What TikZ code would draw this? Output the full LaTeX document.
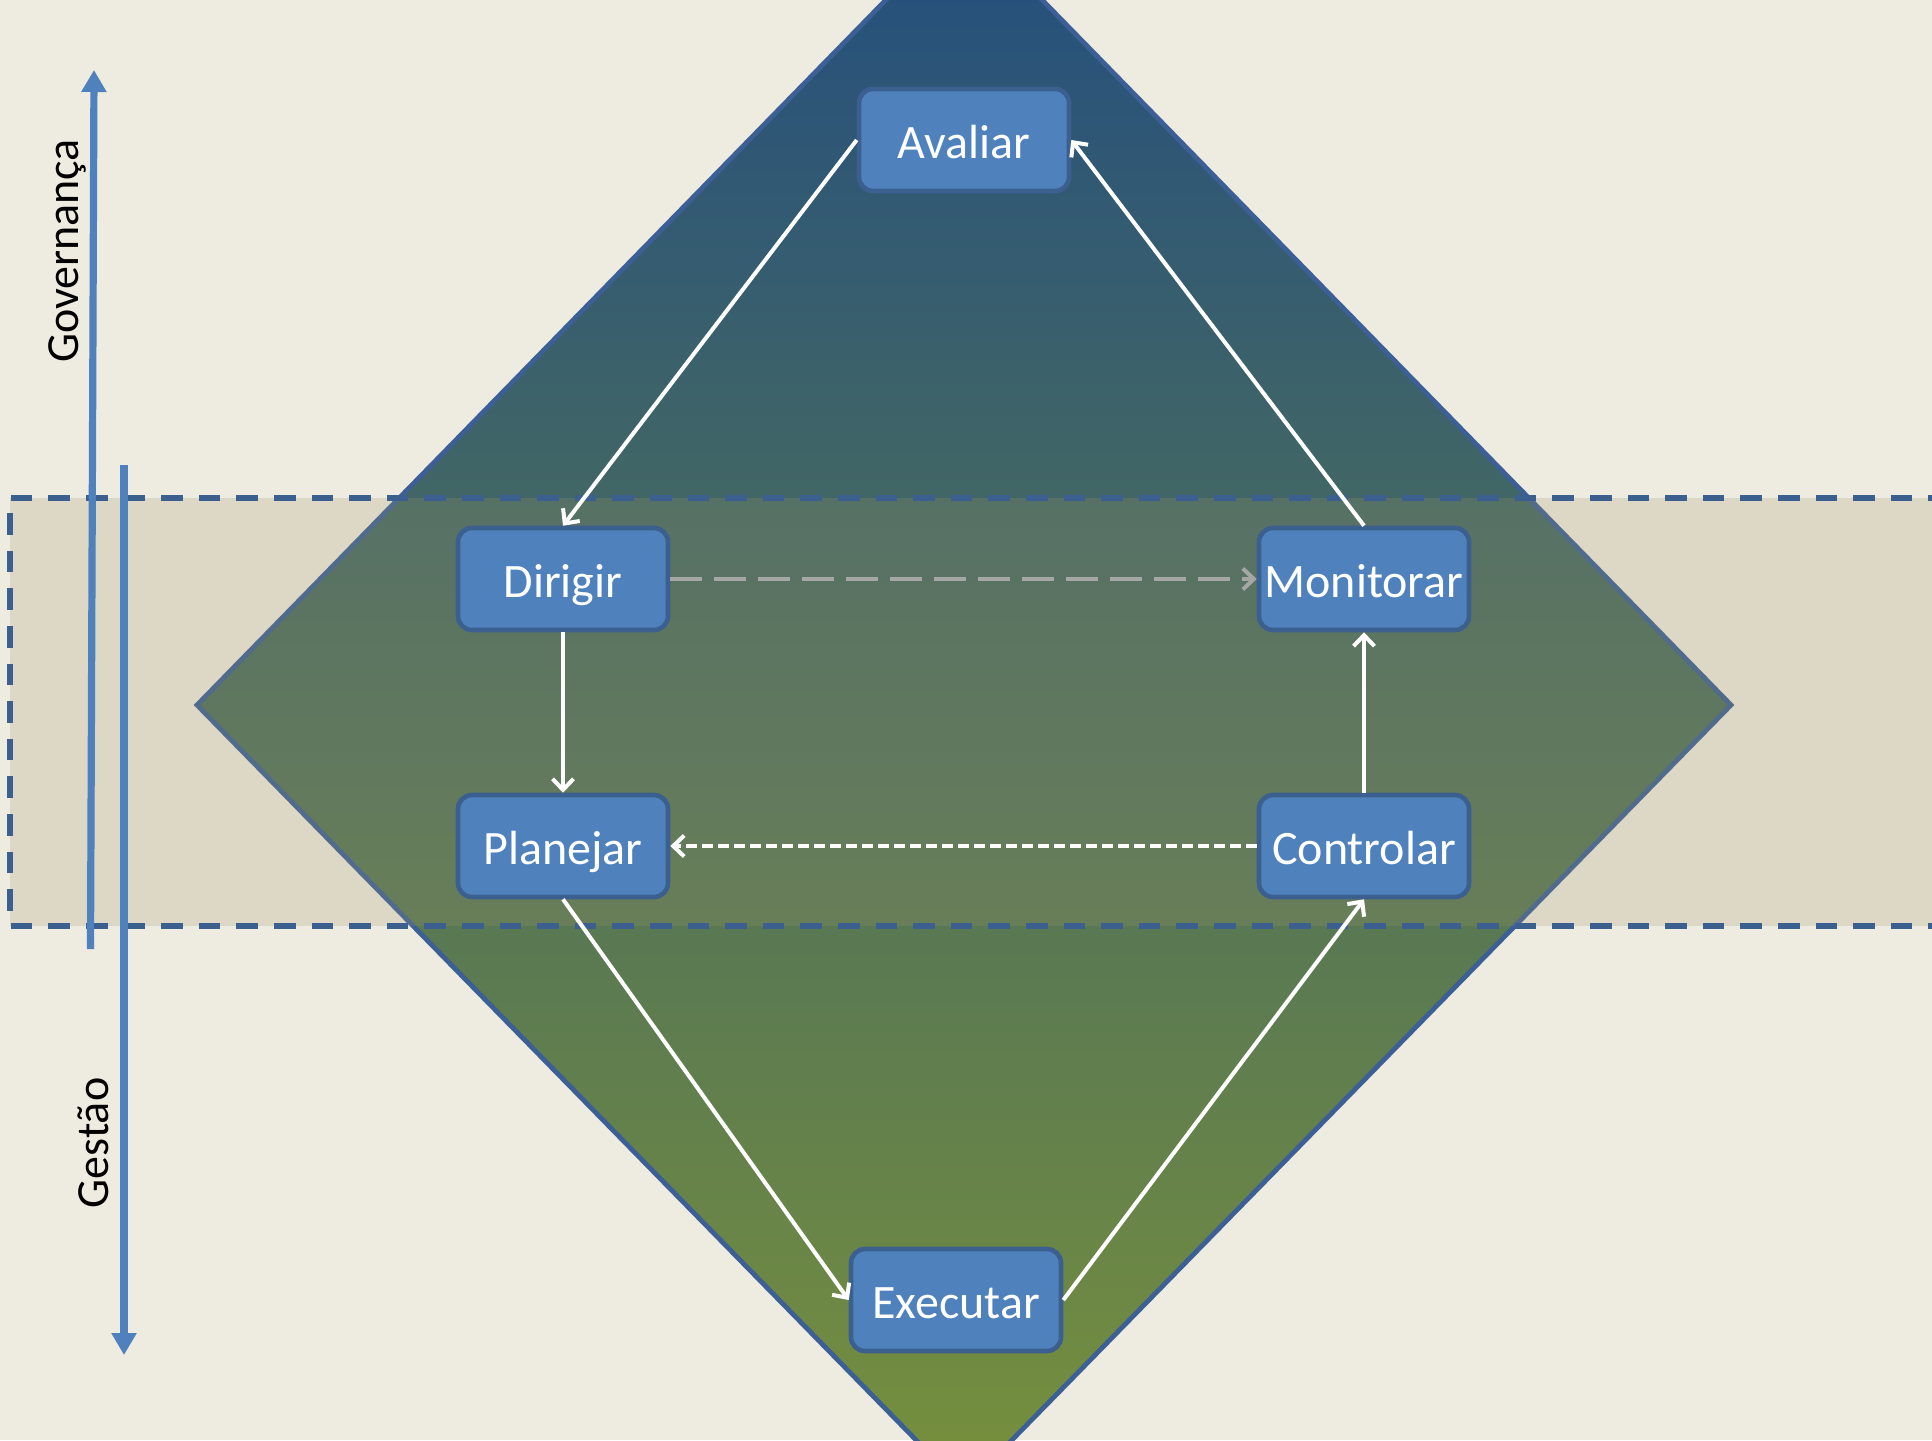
\documentclass[tikz,border=0pt]{standalone}
\usepackage{fontspec}
\setmainfont{Carlito}
\usetikzlibrary{arrows.meta}
\definecolor{bgcol}{HTML}{EEEBE0}
\definecolor{bandcol}{HTML}{A09669}
\definecolor{bandline}{HTML}{3B5F8F}
\definecolor{diamondtop}{HTML}{234E7E}
\definecolor{diamondbot}{HTML}{77903C}
\definecolor{diamondline}{HTML}{3C5F96}
\definecolor{nodefill}{HTML}{4F81BD}
\definecolor{nodeline}{HTML}{3B5F8F}
\definecolor{arrowgray}{HTML}{A6A6A6}

\begin{document}
\begin{tikzpicture}[x=0.5pt,y=-0.5pt]
    \tikzstyle{every node}+=[inner sep=2pt]
    \tikzstyle{stagebox}=[draw=nodeline,line width=2.3pt,fill=nodefill,rounded corners=7pt,minimum width=105pt,minimum height=51pt,text height=22pt,text depth=4pt,text=white,font=\fontsize{24}{28}\selectfont]
    \tikzstyle{flow}=[draw=white,line width=2pt,-{Straight Barb[length=5.5pt,width=10.5pt]}]
    \tikzstyle{axis}=[draw=nodefill,line width=3.6pt,-{Triangle[length=11pt,width=12pt]}]
    \tikzstyle{sidelabel}=[rotate=90,text=black,font=\fontsize{23}{28}\selectfont]
    \clip (0,0) rectangle (1932,1440);
    \fill [bgcol] (0,0) rectangle (1932,1440);
    \draw [diamondline,line width=2.4pt,top color=diamondtop,bottom color=diamondbot] (964,-80) -- (1731,705) -- (964,1489) -- (197,705) -- cycle;
    \fill [bandcol,fill opacity=0.22] (10,498) rectangle (1950,926);
    \draw [bandline,line width=2.8pt,dash pattern=on 10.8pt off 8pt] (1950,498) -- (10,498) -- (10,926) -- (1950,926);
    \coordinate (govlow) at (90.5,949);
    \coordinate (govtop) at (94,70);
    \coordinate (gestop) at (124,465);
    \coordinate (geslow) at (124,1355);
    \draw [axis] (govlow) -- (govtop);
    \draw [axis] (gestop) -- (geslow);
    \node [sidelabel] (gov) at (67,251) {Governança};
    \node [sidelabel] (ges) at (93,1143) {Gestão};
    \node [stagebox] (avaliar) at (964,140) {Avaliar};
    \node [stagebox] (dirigir) at (563,579) {Dirigir};
    \node [stagebox] (monitorar) at (1364,579) {Monitorar};
    \node [stagebox] (planejar) at (563,846) {Planejar};
    \node [stagebox] (controlar) at (1364,846) {Controlar};
    \node [stagebox] (executar) at (956,1300) {Executar};
    \draw [flow] (avaliar.west) -- (dirigir.north);
    \draw [flow] (monitorar.north) -- (avaliar.east);
    \draw [flow] (dirigir.south) -- (planejar.north);
    \draw [flow] (controlar.north) -- (monitorar.south);
    \draw [flow] (planejar.south) -- (executar.west);
    \draw [flow] (executar.east) -- (controlar.south);
    \draw [flow,draw=arrowgray,line width=2pt,dash pattern=on 16pt off 6pt] (dirigir.east) -- (monitorar.west);
    \draw [flow,dash pattern=on 5.5pt off 2.5pt] (controlar.west) -- (planejar.east);
\end{tikzpicture}
\end{document}
